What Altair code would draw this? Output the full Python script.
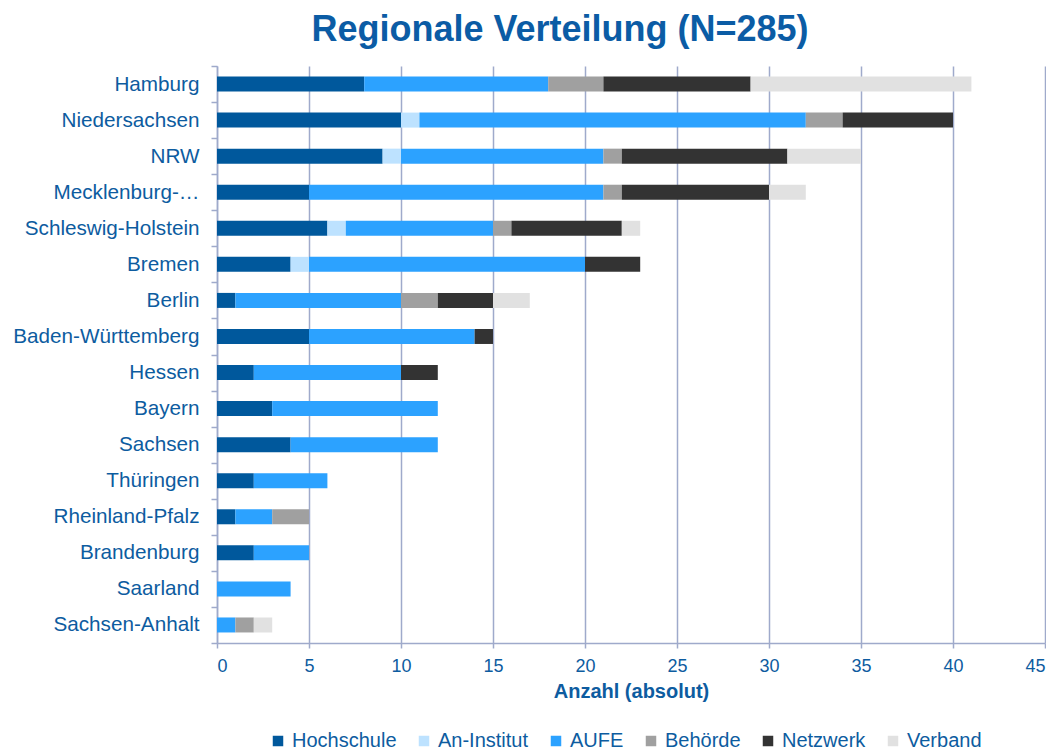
import altair as alt
import pandas as pd

states = ["Hamburg", "Niedersachsen", "NRW", "Mecklenburg-Vorpommern", "Schleswig-Holstein",
          "Bremen", "Berlin", "Baden-Württemberg", "Hessen", "Bayern", "Sachsen", "Thüringen",
          "Rheinland-Pfalz", "Brandenburg", "Saarland", "Sachsen-Anhalt"]
categories = ["Hochschule", "An-Institut", "AUFE", "Behörde", "Netzwerk", "Verband"]
colors = ["#00589C", "#BDE2FF", "#2CA2FF", "#A0A0A0", "#333333", "#E1E1E1"]

hochschule = [8, 10, 9, 5, 6, 4, 1, 5, 2, 3, 4, 2, 1, 2, 0, 0]
an_institut = [0, 1, 1, 0, 1, 1, 0, 0, 0, 0, 0, 0, 0, 0, 0, 0]
aufe = [10, 21, 11, 16, 8, 15, 9, 9, 8, 9, 8, 4, 2, 3, 4, 1]
behoerde = [3, 2, 1, 1, 1, 0, 2, 0, 0, 0, 0, 0, 2, 0, 0, 1]
netzwerk = [8, 6, 9, 8, 6, 3, 3, 1, 2, 0, 0, 0, 0, 0, 0, 0]
verband = [12, 0, 4, 2, 1, 0, 2, 0, 0, 0, 0, 0, 0, 0, 0, 1]

series = [hochschule, an_institut, aufe, behoerde, netzwerk, verband]
rows = []
for ci, (cat, vals) in enumerate(zip(categories, series)):
    for s, v in zip(states, vals):
        if v > 0:
            rows.append({"Bundesland": s, "Typ": cat, "Anzahl": v, "ord": ci})
df = pd.DataFrame(rows)

blue = "#0D5CA0"
gridc = "#9FAACB"

chart = alt.Chart(df).mark_bar(size=15).encode(
    y=alt.Y("Bundesland:N", sort=states,
            scale=alt.Scale(paddingInner=0, paddingOuter=0),
            axis=alt.Axis(title=None, labelFontSize=20.7, labelColor=blue, labelFont="Liberation Sans",
                          tickBand="extent", tickSize=6, tickColor=gridc, domainColor=gridc,
                          domainWidth=1.5, tickWidth=1.5, labelPadding=12, labelLimit=260,
                          labelExpr="datum.value == 'Mecklenburg-Vorpommern' ? 'Mecklenburg-…' : datum.value")),
    x=alt.X("Anzahl:Q", stack="zero",
            scale=alt.Scale(domain=[0, 45], nice=False),
            axis=alt.Axis(title="Anzahl (absolut)", values=list(range(0, 46, 5)),
                          labelFontSize=18, labelColor=blue, labelFont="Liberation Sans",
                          titleFontSize=20, titleColor=blue, titleFont="Liberation Sans",
                          titleFontWeight="bold", titlePadding=6,
                          grid=True, gridColor=gridc, gridWidth=1.5,
                          tickColor=gridc, tickSize=5, tickWidth=1.5,
                          domainColor=gridc, domainWidth=1.5, labelPadding=9)),
    color=alt.Color("Typ:N", sort=categories,
                    scale=alt.Scale(domain=categories, range=colors),
                    legend=alt.Legend(title=None, orient="none", direction="horizontal",
                                      legendX=51, legendY=665,
                                      symbolType="square", symbolSize=110, symbolStrokeWidth=0,
                                      labelFontSize=20, labelColor=blue, labelFont="Liberation Sans",
                                      columnPadding=17, labelOffset=4)),
    order=alt.Order("ord:Q"),
).properties(
    width=828,
    height=577,
    padding={"left": 4, "top": 4, "right": 0, "bottom": 0},
    title=alt.TitleParams("Regionale Verteilung (N=285)", fontSize=36, font="Liberation Sans",
                          fontWeight="bold", color="#0B5CA5", anchor="middle", frame="group",
                          dx=-71, offset=6),
).configure_view(stroke=None)

chart.save("out.html", embed_options={"renderer": "svg", "actions": False})
